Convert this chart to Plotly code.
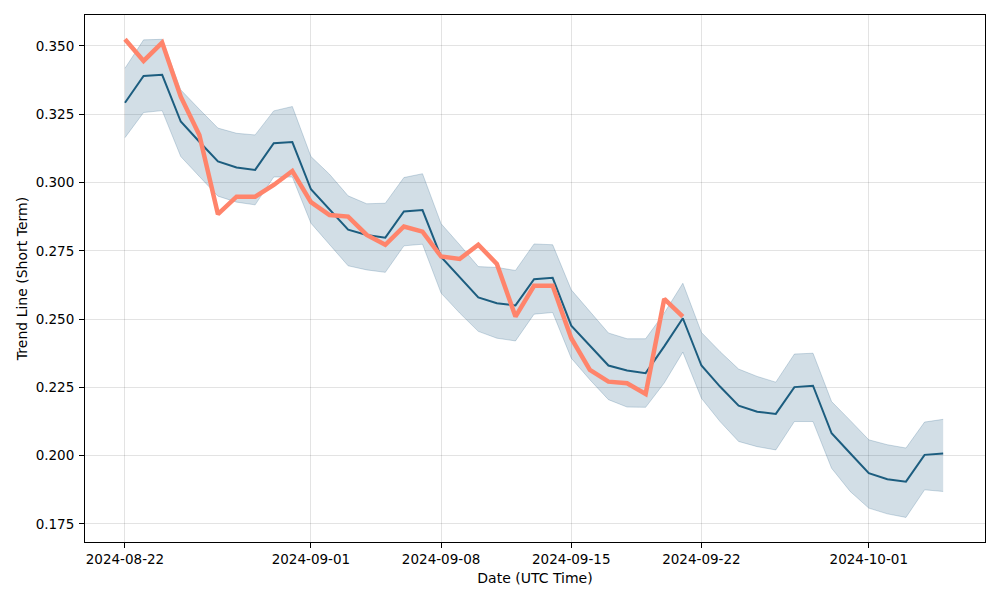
import pandas as pd
import plotly.graph_objects as go

dates = pd.date_range("2024-08-22", "2024-10-05", freq="D")

trend_mid = [0.3292, 0.3390, 0.3394, 0.3223, 0.3149, 0.3077, 0.3055, 0.3046, 0.3144, 0.3148,
             0.2975, 0.2900, 0.2827, 0.2808, 0.2798, 0.2894, 0.2899, 0.2727, 0.2652, 0.2579,
             0.2558, 0.2550, 0.2646, 0.2651, 0.2476, 0.2402, 0.2330, 0.2312, 0.2302, 0.2400,
             0.2503, 0.2330, 0.2253, 0.2183, 0.2161, 0.2153, 0.2251, 0.2256, 0.2082, 0.2009,
             0.1936, 0.1914, 0.1905, 0.2003, 0.2008]

band_upper = [0.3418, 0.3522, 0.3524, 0.3339, 0.3268, 0.3199, 0.3180, 0.3174, 0.3262, 0.3278,
              0.3095, 0.3030, 0.2951, 0.2922, 0.2924, 0.3018, 0.3032, 0.2849, 0.2772, 0.2692,
              0.2689, 0.2678, 0.2775, 0.2772, 0.2607, 0.2528, 0.2449, 0.2428, 0.2428, 0.2522,
              0.2631, 0.2451, 0.2381, 0.2317, 0.2290, 0.2269, 0.2372, 0.2375, 0.2198, 0.2129,
              0.2058, 0.2040, 0.2028, 0.2123, 0.2133]

band_lower = [0.3164, 0.3256, 0.3263, 0.3095, 0.3022, 0.2950, 0.2928, 0.2918, 0.3020, 0.3020,
              0.2851, 0.2772, 0.2695, 0.2680, 0.2671, 0.2768, 0.2774, 0.2595, 0.2522, 0.2455,
              0.2430, 0.2420, 0.2518, 0.2524, 0.2357, 0.2278, 0.2205, 0.2178, 0.2177, 0.2266,
              0.2379, 0.2210, 0.2125, 0.2052, 0.2033, 0.2021, 0.2125, 0.2125, 0.1954, 0.1869,
              0.1808, 0.1787, 0.1774, 0.1875, 0.1869]

actual = [0.3524, 0.3445, 0.3512, 0.3314, 0.3174, 0.2884, 0.2948, 0.2948, 0.2991, 0.3042,
          0.2928, 0.2881, 0.2875, 0.2808, 0.2772, 0.2839, 0.2820, 0.2729, 0.2720, 0.2772,
          0.2702, 0.2509, 0.2622, 0.2622, 0.2430, 0.2314, 0.2271, 0.2265, 0.2226, 0.2574,
          0.2509]

x_tick_dates = ["2024-08-22", "2024-09-01", "2024-09-08", "2024-09-15", "2024-09-22", "2024-10-01"]
y_ticks = [0.175, 0.200, 0.225, 0.250, 0.275, 0.300, 0.325, 0.350]

fig = go.Figure()
fig.add_trace(go.Scatter(x=dates, y=band_lower, mode="lines",
                         line=dict(color="rgba(30,90,130,0.22)", width=1),
                         showlegend=False, hoverinfo="skip"))
fig.add_trace(go.Scatter(x=dates, y=band_upper, mode="lines", fill="tonexty",
                         fillcolor="rgba(30,90,130,0.2)",
                         line=dict(color="rgba(30,90,130,0.22)", width=1),
                         showlegend=False, hoverinfo="skip"))
fig.add_trace(go.Scatter(x=dates, y=trend_mid, mode="lines",
                         line=dict(color="#1c5d7f", width=2), showlegend=False))
fig.add_trace(go.Scatter(x=dates[:len(actual)], y=actual, mode="lines",
                         line=dict(color="#ff846b", width=4.5), showlegend=False))

axis_common = dict(showline=True, linecolor="black", linewidth=1, mirror=True,
                   ticks="outside", ticklen=5, tickcolor="black",
                   showgrid=True, gridcolor="rgba(0,0,0,0.11)", gridwidth=1,
                   zeroline=False, tickfont=dict(size=13.5, color="black"),
                   title_font=dict(size=14, color="black"), automargin=False)

fig.update_layout(
    width=1000, height=600,
    margin=dict(l=85, r=15, t=15, b=58, autoexpand=False),
    plot_bgcolor="white", paper_bgcolor="white",
    font=dict(family="DejaVu Sans", size=13.5, color="black"),
    xaxis=dict(axis_common, title=dict(text="Date (UTC Time)", standoff=6),
               tickvals=x_tick_dates, ticktext=x_tick_dates,
               range=["2024-08-19 20:24", "2024-10-07 06:00"]),
    yaxis=dict(axis_common, title=dict(text="Trend Line (Short Term)", standoff=4),
               tickvals=y_ticks, tickformat=".3f", ticklabelstandoff=2,
               range=[0.1684, 0.3613]),
)

fig.write_html("out.html", config={"displayModeBar": False},
               post_script="document.body.style.margin='0';")
